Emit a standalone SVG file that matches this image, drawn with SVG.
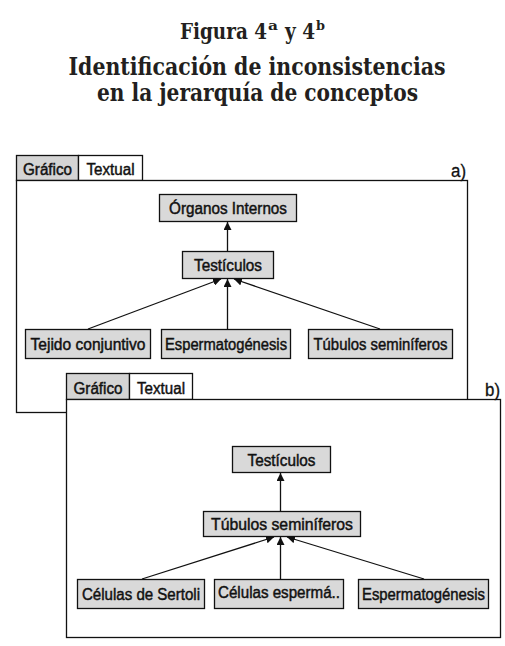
<svg xmlns="http://www.w3.org/2000/svg" width="505" height="646" viewBox="0 0 505 646">
<defs>
<marker id="ah" viewBox="0 0 10 10" refX="10" refY="5" markerWidth="8" markerHeight="8" markerUnits="userSpaceOnUse" orient="auto">
<path d="M0,0 L10,5 L0,10 z" fill="#111"/>
</marker>
</defs>
<style>
.title{font-family:"DejaVu Serif","Liberation Serif",serif;font-weight:bold;fill:#231f20}
.mid{text-anchor:middle}
.frame{fill:#fff;stroke:#111;stroke-width:1.3}
.tabg{fill:#d4d4d4;stroke:#111;stroke-width:1.3}
.tabw{fill:#fff;stroke:#111;stroke-width:1.3}
.node rect{fill:#d9d9d9;stroke:#111;stroke-width:1.3}
.lbl{font-family:"Liberation Sans",Arial,sans-serif;font-size:16px;fill:#111;text-anchor:middle;stroke:#111;stroke-width:0.45}
.tag{font-family:"Liberation Sans",Arial,sans-serif;font-size:18px;fill:#111;stroke:#111;stroke-width:0.3}
.conn line{stroke:#111;stroke-width:1.3;marker-end:url(#ah)}
</style>
<rect width="505" height="646" fill="#fff"/>
<g id="title">
<text class="title" x="180" y="39" font-size="23" textLength="87" lengthAdjust="spacingAndGlyphs">Figura 4</text>
<text class="title" x="268" y="30" font-size="13" textLength="10" lengthAdjust="spacingAndGlyphs">a</text>
<text class="title" x="285" y="39" font-size="23" textLength="30" lengthAdjust="spacingAndGlyphs">y 4</text>
<text class="title" x="316" y="30" font-size="13" textLength="9" lengthAdjust="spacingAndGlyphs">b</text>
<text class="title mid" x="257" y="75" font-size="24" textLength="377" lengthAdjust="spacingAndGlyphs">Identificación de inconsistencias</text>
<text class="title mid" x="257.5" y="101" font-size="24" textLength="321" lengthAdjust="spacingAndGlyphs">en la jerarquía de conceptos</text>
</g>
<g id="panel-a">
<rect class="tabg" x="16.5" y="155.5" width="62" height="25"/>
<rect class="tabw" x="78.5" y="155.5" width="64" height="25"/>
<text class="lbl" x="47.5" y="175" textLength="49" lengthAdjust="spacingAndGlyphs">Gráfico</text>
<text class="lbl" x="110.5" y="175" textLength="48" lengthAdjust="spacingAndGlyphs">Textual</text>
<rect class="frame" x="16.5" y="180.5" width="451" height="232"/>
<text class="tag" x="451" y="177" textLength="15" lengthAdjust="spacingAndGlyphs">a)</text>
</g>
<g id="panel-b">
<rect class="tabg" x="66.5" y="373.5" width="63" height="26"/>
<rect class="tabw" x="129.5" y="373.5" width="63" height="26"/>
<text class="lbl" x="98" y="394" textLength="49" lengthAdjust="spacingAndGlyphs">Gráfico</text>
<text class="lbl" x="161" y="394" textLength="48" lengthAdjust="spacingAndGlyphs">Textual</text>
<rect class="frame" x="66.5" y="399.5" width="434" height="238"/>
<text class="tag" x="485" y="396" textLength="15" lengthAdjust="spacingAndGlyphs">b)</text>
</g>
<g id="connectors" class="conn">
<line x1="227.5" y1="251" x2="227.5" y2="222"/>
<line x1="88" y1="329" x2="221" y2="279"/>
<line x1="227.5" y1="329" x2="227.5" y2="279"/>
<line x1="380" y1="329" x2="234" y2="279"/>
<line x1="280.5" y1="511" x2="280.5" y2="473"/>
<line x1="142" y1="579" x2="274" y2="537"/>
<line x1="280.5" y1="579" x2="280.5" y2="537"/>
<line x1="424" y1="579" x2="287" y2="537"/>
</g>
<g id="a-organos" class="node"><rect x="159.5" y="194.5" width="137" height="27"/><text class="lbl" x="228" y="214" textLength="118" lengthAdjust="spacingAndGlyphs">Órganos Internos</text></g>
<g id="a-testiculos" class="node"><rect x="182.5" y="251.5" width="91" height="27"/><text class="lbl" x="228" y="271" textLength="68" lengthAdjust="spacingAndGlyphs">Testículos</text></g>
<g id="a-tejido" class="node"><rect x="25.5" y="329.5" width="125" height="29"/><text class="lbl" x="88" y="350" textLength="115" lengthAdjust="spacingAndGlyphs">Tejido conjuntivo</text></g>
<g id="a-esperm" class="node"><rect x="161.5" y="329.5" width="129" height="29"/><text class="lbl" x="226" y="350" textLength="122" lengthAdjust="spacingAndGlyphs">Espermatogénesis</text></g>
<g id="a-tubulos" class="node"><rect x="308.5" y="329.5" width="144" height="29"/><text class="lbl" x="380.5" y="350" textLength="134" lengthAdjust="spacingAndGlyphs">Túbulos seminíferos</text></g>
<g id="b-testiculos" class="node"><rect x="232.5" y="446.5" width="98" height="26"/><text class="lbl" x="281.5" y="466" textLength="68" lengthAdjust="spacingAndGlyphs">Testículos</text></g>
<g id="b-tubulos" class="node"><rect x="203.5" y="511.5" width="157" height="25"/><text class="lbl" x="282" y="530" textLength="142" lengthAdjust="spacingAndGlyphs">Túbulos seminíferos</text></g>
<g id="b-sertoli" class="node"><rect x="77.5" y="579.5" width="127" height="29"/><text class="lbl" x="141" y="600" textLength="118" lengthAdjust="spacingAndGlyphs">Células de Sertoli</text></g>
<g id="b-celulas" class="node"><rect x="214.5" y="579.5" width="129" height="29"/><text class="lbl" x="279" y="598" textLength="122" lengthAdjust="spacingAndGlyphs">Células espermá..</text></g>
<g id="b-esperm" class="node"><rect x="358.5" y="579.5" width="130" height="29"/><text class="lbl" x="423.5" y="600" textLength="123" lengthAdjust="spacingAndGlyphs">Espermatogénesis</text></g>
</svg>
